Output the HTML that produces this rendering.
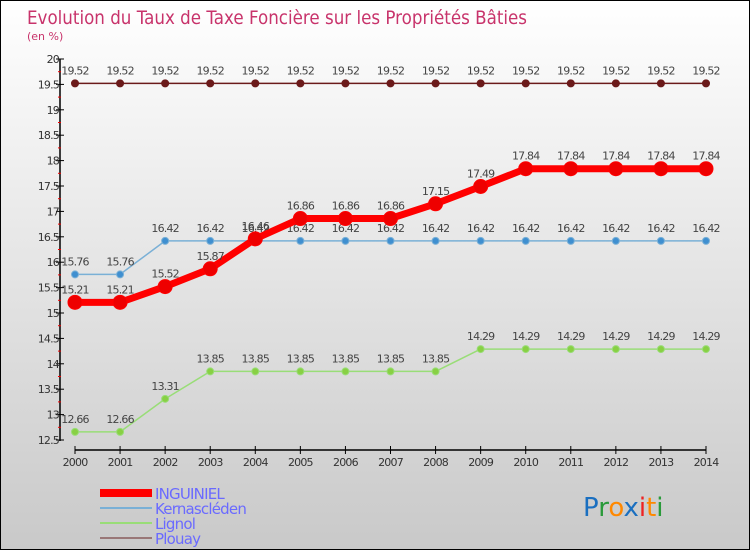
<!DOCTYPE html>
<html><head><meta charset="utf-8"><style>
body{margin:0;}
#c{width:750px;height:550px;position:relative;box-sizing:border-box;border:1px solid #000;background:linear-gradient(#ffffff,#c9c9c9);overflow:hidden;font-family:"DejaVu Sans","Liberation Sans",sans-serif;}
</style></head><body>
<div id="c">
<svg id="s" width="750" height="550" style="position:absolute;left:-1px;top:-1px"></svg>
</div>
<script>
const years=[2000,2001,2002,2003,2004,2005,2006,2007,2008,2009,2010,2011,2012,2013,2014];
const inguiniel=[15.21,15.21,15.52,15.87,16.46,16.86,16.86,16.86,17.15,17.49,17.84,17.84,17.84,17.84,17.84];
const kernascleden=[15.76,15.76,16.42,16.42,16.42,16.42,16.42,16.42,16.42,16.42,16.42,16.42,16.42,16.42,16.42];
const lignol=[12.66,12.66,13.31,13.85,13.85,13.85,13.85,13.85,13.85,14.29,14.29,14.29,14.29,14.29,14.29];
const plouay=[19.52,19.52,19.52,19.52,19.52,19.52,19.52,19.52,19.52,19.52,19.52,19.52,19.52,19.52,19.52];
const yTicks=[12.5,13,13.5,14,14.5,15,15.5,16,16.5,17,17.5,18,18.5,19,19.5,20];
const seriesNames=["INGUINIEL","Kernascléden","Lignol","Plouay"];

const s=document.getElementById('s');const NS='http://www.w3.org/2000/svg';
function el(t,a,p){const e=document.createElementNS(NS,t);for(const k in a)e.setAttribute(k,a[k]);(p||s).appendChild(e);return e;}
const X=i=>75+i*(706-75)/(years.length-1);
const Y=v=>440-(v-12.5)*(440-59)/7.5;

let t=el('text',{x:27,y:24,'font-size':19,fill:'#c8336b',textLength:500,lengthAdjust:'spacingAndGlyphs'});t.textContent='Evolution du Taux de Taxe Foncière sur les Propriétés Bâties';

t=el('text',{x:27,y:40,'font-size':11,fill:'#c8336b'});t.textContent='(en %)';


let a=el('line',{x1:60,y1:59,x2:60,y2:441,stroke:'#000','stroke-width':1.5});

yTicks.forEach((v,i)=>{const y=Y(v);
 const tk=el('line',{x1:56,y1:y,x2:64,y2:y,stroke:'#000'});
 
 if(i<yTicks.length-1){const m=el('line',{x1:58,y1:Y(v+0.25),x2:61,y2:Y(v+0.25),stroke:'#e00'});}
 const l=el('text',{x:59,y:y+4,'font-size':11,fill:'#333','text-anchor':'end','letter-spacing':'-0.8'});l.textContent=String(v);
 });
a=el('line',{x1:75,y1:450,x2:706,y2:450,stroke:'#000','stroke-width':1.5});

years.forEach((yr,i)=>{const x=X(i);
 const tk=el('line',{x1:x,y1:446,x2:x,y2:454,stroke:'#000'});
 const l=el('text',{x:x,y:466,'font-size':11,fill:'#333','text-anchor':'middle','letter-spacing':'-0.8'});l.textContent=yr;
 });

function series(data,color,w,r,name,fill){
 const g=el('g',{});
 const p=el('polyline',{points:data.map((v,i)=>X(i)+','+Y(v)).join(' '),fill:'none',stroke:color,'stroke-width':w,'stroke-linejoin':'round'},g);
 
 data.forEach((v,i)=>{const c=el('circle',{cx:X(i),cy:Y(v),r:r,fill:fill||color,stroke:color,'stroke-width':1},g);
  
  const l=el('text',{x:X(i),y:Y(v)-9,'font-size':11,fill:'#444','text-anchor':'middle','letter-spacing':'-0.8'},g);l.textContent=v.toFixed(2);
  });
}
series(plouay,'#6b1a1a',1.5,3.5,'plouay');
series(lignol,'#99dd77',1.5,3.5,'lignol','#88d044');
series(kernascleden,'#7ab0d6',1.5,3.5,'kernascleden','#3f8fd0');
series(inguiniel,'#ff0000',7,7,'inguiniel','#ee0000');

const leg=[['#ff0000',8],['#7ab0d6',2],['#99dd77',2],['#997777',2]];
leg.forEach((L,i)=>{const y=493+i*15;
 const ln=el('line',{x1:100,y1:y,x2:152,y2:y,stroke:L[0],'stroke-width':L[1]});
 const tx=el('text',{x:155,y:y+6,'font-size':15,fill:'#6a6aff','letter-spacing':'-0.8'});tx.textContent=seriesNames[i];
 });

const lg=el('text',{x:583,y:516,'font-size':26,'font-family':'DejaVu Sans, sans-serif'});

[['P','#1a6fc0'],['r','#2a9a3a'],['o','#ff8800'],['x','#1a6fc0'],['i','#e22'],['t','#ff8800'],['i','#2a9a3a']].forEach(c=>{const sp=el('tspan',{fill:c[1]},lg);sp.textContent=c[0];});
</script>
</body></html>
